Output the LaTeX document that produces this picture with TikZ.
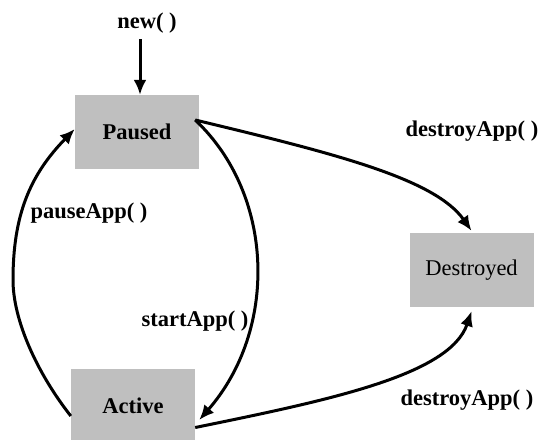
\documentclass[tikz,border=0pt]{standalone}
\usepackage{fontspec}
\setmainfont{Liberation Serif}
\usetikzlibrary{arrows.meta}

\begin{document}
\begin{tikzpicture}[x=1pt,y=-1pt,
    state/.style={fill=boxgray, minimum width=124pt, minimum height=74pt, inner sep=0pt, font=\fontsize{22.5}{26}\selectfont\bfseries},
    lbl/.style={font=\fontsize{22.5}{26}\selectfont\bfseries, inner sep=2pt},
    trans/.style={line width=3pt, -{Latex[length=15pt,width=13pt]}},
]
\definecolor{boxgray}{rgb}{0.75,0.75,0.75}
\useasboundingbox (0,0) rectangle (538,439);

%%%%%%%% states
\node[state] (paused) at (137,132) {Paused};
\node[state] (active) at (133,405.5) {Active};
\node[state, font=\fontsize{22.5}{26}\selectfont] (destroyed) at (471.5,270) {Destroyed};

%%%%%%%% labels
\node[lbl] (new) at (147,23) {new( )};
\node[lbl] (pause) at (89,213) {pauseApp( )};
\node[lbl] (start) at (195,321) {startApp( )};
\node[lbl] (destroyA) at (472,131) {destroyApp( )};
\node[lbl] (destroyB) at (467,400) {destroyApp( )};

%%%%%%%% transitions
\draw[trans] ([xshift=-7pt,yshift=-4pt]new.south) -- ([xshift=3pt]paused.north);

%% pauseApp
\draw[trans] ([yshift=-10.5pt]active.west) .. controls (37,373) and (13,320) .. (13,280)
    .. controls (13,215) and (30,175) .. ([yshift=3pt]paused.west);

%% startApp
\draw[trans] ([xshift=-4pt,yshift=12pt]paused.east) .. controls (275,195) and (278,330) .. ([xshift=4pt,yshift=-14.5pt]active.east);

%% destroyApp
\draw[trans] ([xshift=-4pt,yshift=12pt]paused.east) .. controls (337,154) and (435,179) .. ([yshift=2pt]destroyed.north);
\draw[trans] ([yshift=-22pt]active.east) .. controls (330,400) and (450,375) .. ([yshift=-4pt]destroyed.south);

\end{tikzpicture}
\end{document}
